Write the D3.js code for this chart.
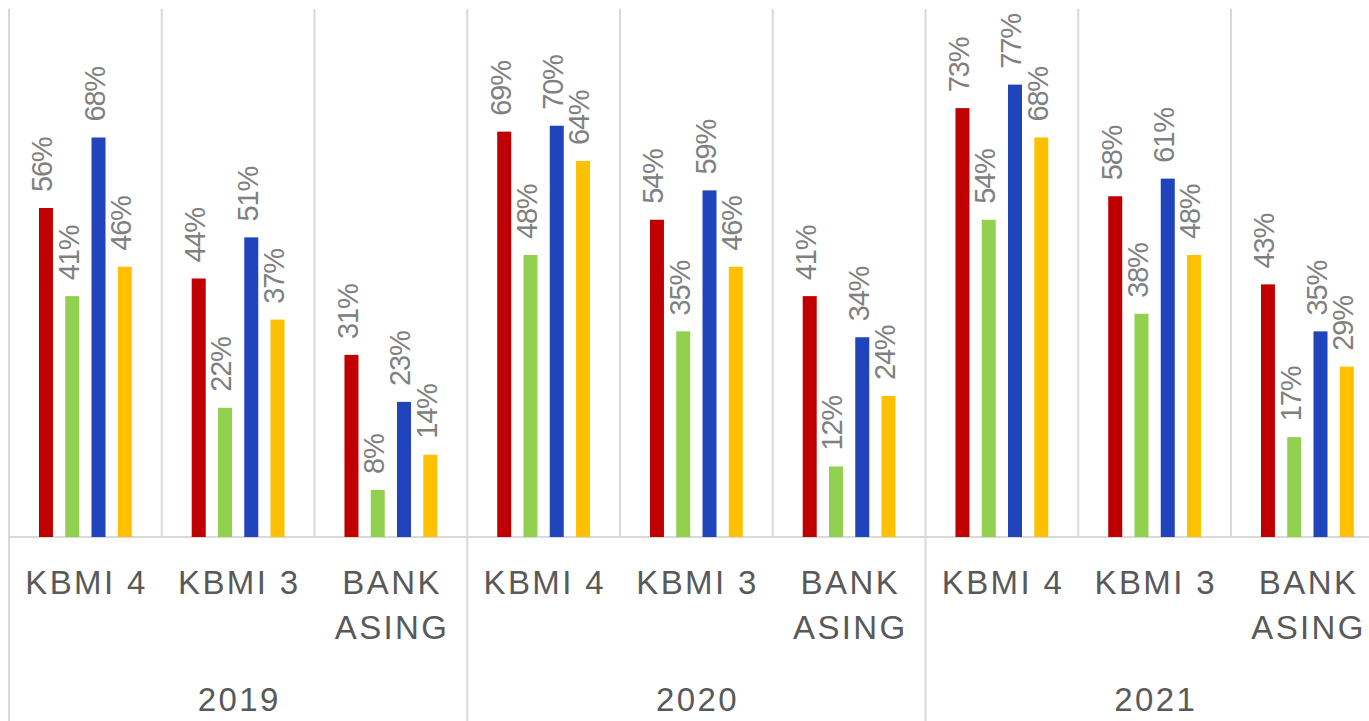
<!DOCTYPE html>
<html>
<head>
<meta charset="utf-8">
<script src="https://cdn.jsdelivr.net/npm/d3@7"></script>
<style>
  html, body { margin: 0; padding: 0; background: #fff; }
  svg { display: block; }
</style>
</head>
<body>
<svg id="chart" width="1369" height="721"></svg>
<script>
// ---- data ----
const years = ["2019", "2020", "2021"];
const groups = ["KBMI 4", "KBMI 3", "BANK ASING"];
const seriesNames = ["Series 1", "Series 2", "Series 3", "Series 4"];
const seriesColors = ["#C00000", "#92D050", "#1F44BC", "#FFC000"];
// values per category (year x group), one array per series
const series1 = [0.56, 0.44, 0.31, 0.69, 0.54, 0.41, 0.73, 0.58, 0.43];
const series2 = [0.41, 0.22, 0.08, 0.48, 0.35, 0.12, 0.54, 0.38, 0.17];
const series3 = [0.68, 0.51, 0.23, 0.70, 0.59, 0.34, 0.77, 0.61, 0.35];
const series4 = [0.46, 0.37, 0.14, 0.64, 0.46, 0.24, 0.68, 0.48, 0.29];
const yDomainMax = 0.9;

// ---- build ----
const seriesValues = [series1, series2, series3, series4];
const categories = [];
years.forEach(yr => groups.forEach(g => categories.push(yr + "|" + g)));

const svg = d3.select("#chart");
const plotLeft = 9, catW = 152.75, plotTop = 8.25, base = 537;
const x = d3.scaleBand().domain(categories).range([plotLeft, plotLeft + catW * categories.length]).padding(0);
const slot = catW * 0.172;
const inner = d3.scaleBand().domain(d3.range(seriesNames.length))
  .range([(catW - slot * 4) / 2, (catW + slot * 4) / 2]);
const barW = 14;
const y = d3.scaleLinear().domain([0, yDomainMax]).range([base, plotTop]);
const grid = "#D9D9D9";
const FONT = "'Liberation Sans', Arial, sans-serif";
const axisSize = 33, axisLS = 2.4;

// vertical gridlines (category boundaries) above the axis
const bounds = d3.range(categories.length + 1).map(i => plotLeft + i * catW);
svg.append("g").selectAll("line").data(bounds).join("line")
  .attr("x1", d => d).attr("x2", d => d)
  .attr("y1", plotTop + 0.5).attr("y2", base)
  .attr("stroke", grid).attr("stroke-width", 2);

// year boundaries extend down through label area
const yearBounds = d3.range(years.length + 1).map(i => plotLeft + i * catW * groups.length);
svg.append("g").selectAll("line").data(yearBounds).join("line")
  .attr("x1", d => d).attr("x2", d => d)
  .attr("y1", base).attr("y2", 721)
  .attr("stroke", grid).attr("stroke-width", 2);

// baseline
svg.append("line").attr("x1", plotLeft).attr("x2", 1369).attr("y1", base).attr("y2", base)
  .attr("stroke", grid).attr("stroke-width", 2);

// bars
const barData = [];
seriesValues.forEach((vals, si) => vals.forEach((v, ci) => barData.push({si, ci, v})));
svg.append("g").selectAll("rect").data(barData).join("rect")
  .attr("x", d => x(categories[d.ci]) + inner(d.si) + inner.bandwidth() / 2 - barW / 2)
  .attr("width", barW)
  .attr("y", d => y(d.v))
  .attr("height", d => base - y(d.v))
  .attr("fill", d => seriesColors[d.si]);

// data labels (rotated)
svg.append("g").selectAll("text").data(barData).join("text")
  .attr("transform", d => {
    const cx = x(categories[d.ci]) + inner(d.si) + inner.bandwidth() / 2;
    return `translate(${cx},${y(d.v) - 16}) rotate(-90)`;
  })
  .attr("dy", "0.22em")
  .attr("text-anchor", "start")
  .attr("font-family", FONT)
  .attr("font-size", 29)
  .attr("letter-spacing", -1.2)
  .attr("fill", "#808080")
  .text(d => Math.round(d.v * 100) + "%");

// category labels
const catG = svg.append("g")
  .attr("font-family", FONT)
  .attr("font-size", axisSize).attr("fill", "#595959").attr("letter-spacing", axisLS)
  .attr("text-anchor", "middle");
categories.forEach(c => {
  const g = c.split("|")[1];
  const cx = x(c) + catW / 2;
  const words = g === "BANK ASING" ? ["BANK", "ASING"] : [g];
  words.forEach((w, i) => {
    catG.append("text").attr("x", cx + axisLS / 2).attr("y", 594 + i * 45).text(w);
  });
});

// year labels
svg.append("g").selectAll("text").data(years).join("text")
  .attr("x", (d, i) => plotLeft + (i + 0.5) * catW * groups.length + axisLS / 2)
  .attr("y", 711)
  .attr("text-anchor", "middle")
  .attr("font-family", FONT)
  .attr("font-size", axisSize).attr("fill", "#595959").attr("letter-spacing", axisLS)
  .text(d => d);
</script>
</body>
</html>
